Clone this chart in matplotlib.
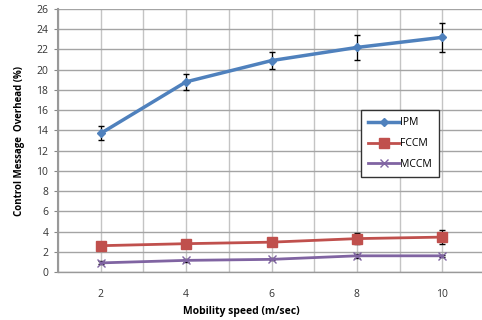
import matplotlib
matplotlib.use("Agg")
import matplotlib.pyplot as plt
from matplotlib.lines import Line2D

speeds = [2, 4, 6, 8, 10]

ipm = [13.7, 18.8, 20.9, 22.2, 23.2]
ipm_err = [0.7, 0.8, 0.85, 1.2, 1.45]

fccm = [2.6, 2.8, 2.95, 3.3, 3.45]
fccm_err = [0.2, 0.2, 0.3, 0.55, 0.7]

mccm = [0.9, 1.15, 1.25, 1.6, 1.6]
mccm_err = [0.15, 0.15, 0.1, 0.2, 0.1]

y_ticks = list(range(0, 27, 2))

plt.rcParams["font.family"] = ["Open Sans", "DejaVu Sans"]

fig = plt.figure(figsize=(4.82, 3.2), dpi=100)
ax = fig.add_axes([58 / 482, 48 / 320, 427 / 482, 263 / 320])

for x in range(1, 12):
    ax.axvline(x, color="#c4c4c4", lw=1.0, zorder=0)
for y in y_ticks:
    ax.axhline(y, color="#a4a4a4", lw=1.0, zorder=0)

series = [
    ("IPM", ipm, ipm_err, "#4F81BD", "D", 4.5, 2.5),
    ("FCCM", fccm, fccm_err, "#C0504D", "s", 7, 2.0),
    ("MCCM", mccm, mccm_err, "#8064A2", "x", 6, 2.0),
]
handles = []
for name, vals, err, col, mk, ms, lw in series:
    ax.errorbar(speeds, vals, yerr=err, color=col, ecolor="black", elinewidth=0.9,
                capsize=2.5, capthick=0.9, marker=mk, markersize=ms, lw=lw,
                mew=1.0, zorder=3)
    handles.append(Line2D([], [], color=col, marker=mk, markersize=ms, lw=lw,
                          mew=1.0, label=name))

ax.set_xlim(1, 11)
ax.set_ylim(0, 26)
ax.set_xticks(speeds)
ax.set_yticks(y_ticks)
ax.tick_params(axis="x", length=0, pad=12, labelsize=7.5, colors="#333333")
ax.tick_params(axis="y", length=3, width=0.8, color="#888888", labelsize=7.5,
               labelcolor="#333333", pad=4)

for s in ["top", "right"]:
    ax.spines[s].set_visible(False)
ax.spines["left"].set_color("#999999")
ax.spines["left"].set_linewidth(1.5)
ax.spines["bottom"].set_color("#999999")
ax.spines["bottom"].set_linewidth(1.0)

ax.set_xlabel("Mobility speed (m/sec)", fontsize=7.5, fontweight="bold")
ax.set_ylabel("Control Message  Overhead (%)", fontsize=7, fontweight="bold")
ax.xaxis.set_label_coords(0.43, -0.13)
ax.yaxis.set_label_coords(-0.078, 0.5)

leg = ax.legend(handles=handles, loc="upper left", bbox_to_anchor=(0.709, 0.616),
                fontsize=7.5, frameon=True, fancybox=False, edgecolor="#333333",
                framealpha=1, handlelength=3.0, labelspacing=0.95, borderpad=0.7,
                handletextpad=0.1, borderaxespad=0)
leg.get_frame().set_linewidth(1.0)

fig.savefig("out.png", dpi=100)
